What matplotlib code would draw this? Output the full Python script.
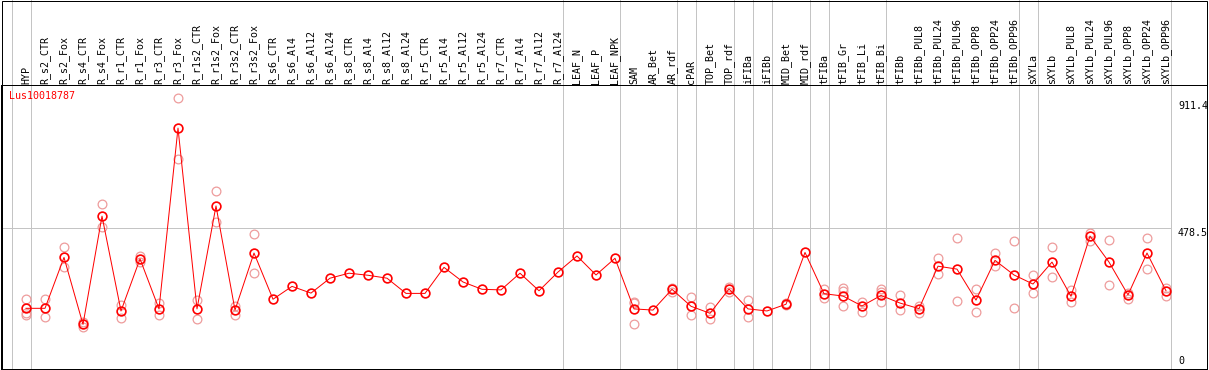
import matplotlib
matplotlib.use('Agg')
import matplotlib.pyplot as plt
import matplotlib.transforms as mtransforms
from matplotlib.patches import Rectangle

labels = ['HYP', 'R_s2_CTR', 'R_s2_Fox', 'R_s4_CTR', 'R_s4_Fox', 'R_r1_CTR', 'R_r1_Fox',
          'R_r3_CTR', 'R_r3_Fox', 'R_r1s2_CTR', 'R_r1s2_Fox', 'R_r3s2_CTR', 'R_r3s2_Fox',
          'R_s6_CTR', 'R_s6_Al4', 'R_s6_Al12', 'R_s6_Al24', 'R_s8_CTR', 'R_s8_Al4',
          'R_s8_Al12', 'R_s8_Al24', 'R_r5_CTR', 'R_r5_Al4', 'R_r5_Al12', 'R_r5_Al24',
          'R_r7_CTR', 'R_r7_Al4', 'R_r7_Al12', 'R_r7_Al24', 'LEAF_N', 'LEAF_P', 'LEAF_NPK',
          'SAM', 'AR_Bet', 'AR_rdf', 'cPAR', 'TOP_Bet', 'TOP_rdf', 'iFIBa', 'iFIBb',
          'MID_Bet', 'MID_rdf', 'tFIBa', 'tFIB_Gr', 'tFIB_Li', 'tFIB_Bi', 'tFIBb',
          'tFIBb_PUL8', 'tFIBb_PUL24', 'tFIBb_PUL96', 'tFIBb_OPP8', 'tFIBb_OPP24',
          'tFIBb_OPP96', 'sXYLa', 'sXYLb', 'sXYLb_PUL8', 'sXYLb_PUL24', 'sXYLb_PUL96',
          'sXYLb_OPP8', 'sXYLb_OPP24', 'sXYLb_OPP96']

means = [204, 204, 378, 149, 519, 195, 373, 202, 820, 202, 554, 198, 393,
         235, 279, 256, 307, 324, 317, 307, 255, 255, 344, 294, 269, 267, 324, 264, 328,
         383, 318, 375,
         202, 198, 269, 211, 187, 270, 202, 195, 218, 395,
         254, 246, 212, 248, 222, 203, 348, 338, 232, 368, 318,
         287, 362, 245, 451, 362, 250, 393, 264]

replicates = [[235, 187, 181], [235, 175], [414, 344], [158, 139], [560, 483], [215, 170],
              [383, 362], [221, 180], [922, 713], [232, 169], [605, 498], [212, 182],
              [457, 324],
              [], [], [], [], [], [], [], [], [], [], [], [], [], [], [], [],
              [], [], [],
              [227, 221, 149], [], [274, 261], [242, 180], [207, 169], [278, 261],
              [232, 174], [], [222, 214], [],
              [271, 240], [274, 264, 211], [226, 192], [269, 260, 227], [250, 197],
              [212, 189], [376, 322], [444, 229], [270, 191], [392, 350], [433, 205],
              [318, 255], [414, 310], [267, 225], [462, 435], [436, 284], [255, 237],
              [444, 337], [272, 246]]

# group separators sit just right of these column indices
separators = [-1, 0, 28, 31, 34, 35, 37, 38, 39, 41, 42, 45, 52, 53, 60]
yticks = [911.4, 478.5, 0]
title = 'Lus10018787'

W, H = 1209, 370
fig = plt.figure(figsize=(W / 100, H / 100), dpi=100)
ax = fig.add_axes([1 / W, 1 / H, 1206 / W, 284 / H])

px = 0.72  # one pixel in points
gray = '#c4c4c4'
mono = 'DejaVu Sans Mono'
fs = 7.2

ax.set_xlim((1 - 26) / 19, (1207 - 26) / 19)
ax.set_ylim(-3.4, 967.3)
ax.set_xticks([])
ax.set_yticks([])
for s in ax.spines.values():
    s.set_linewidth(px)
    s.set_color('black')

blend = mtransforms.blended_transform_factory(ax.transData, ax.transAxes)
off = 4.5 / 19
right_edge = 60 + off

for g in separators:
    ax.plot([g + off, g + off], [0, 1.3], color=gray, lw=px, transform=blend,
            clip_on=False, zorder=1)
ax.plot([ax.get_xlim()[0], right_edge], [yticks[1], yticks[1]], color=gray, lw=px, zorder=1)

x = list(range(len(labels)))
for i, r in enumerate(replicates):
    if r:
        ax.plot([i] * len(r), r, linestyle='none', marker='o', ms=6.3, mfc='none',
                mec='#ee9c9c', mew=0.9, zorder=2)
ax.plot(x, means, color='red', lw=px, zorder=3)
ax.plot(x, means, linestyle='none', marker='o', ms=6.3, mfc='none', mec='red',
        mew=1.2, zorder=4)

for i, lab in enumerate(labels):
    ax.text(i, 1 + 1.5 / 284, lab, transform=blend, rotation=90, ha='center',
            va='bottom', fontsize=fs, family=mono, color='black')

lx = (1178 - 26) / 19
ax.text(lx, yticks[0], '911.4', ha='left', va='top', fontsize=fs, family=mono)
ax.text(lx, yticks[1], '478.5', ha='left', va='top', fontsize=fs, family=mono)
ax.text(lx, yticks[2] + 6, '0', ha='left', va='bottom', fontsize=fs, family=mono)

fig.text(9 / W, 1 - 91 / H, title, color='red', ha='left', va='top',
         fontsize=fs, family=mono)

fig.patches.append(Rectangle((1.5 / W, 1 - 369.5 / H), 1205.5 / W, 369 / H,
                             transform=fig.transFigure, fill=False, lw=px,
                             edgecolor='black'))

fig.savefig('out.png', dpi=100)
